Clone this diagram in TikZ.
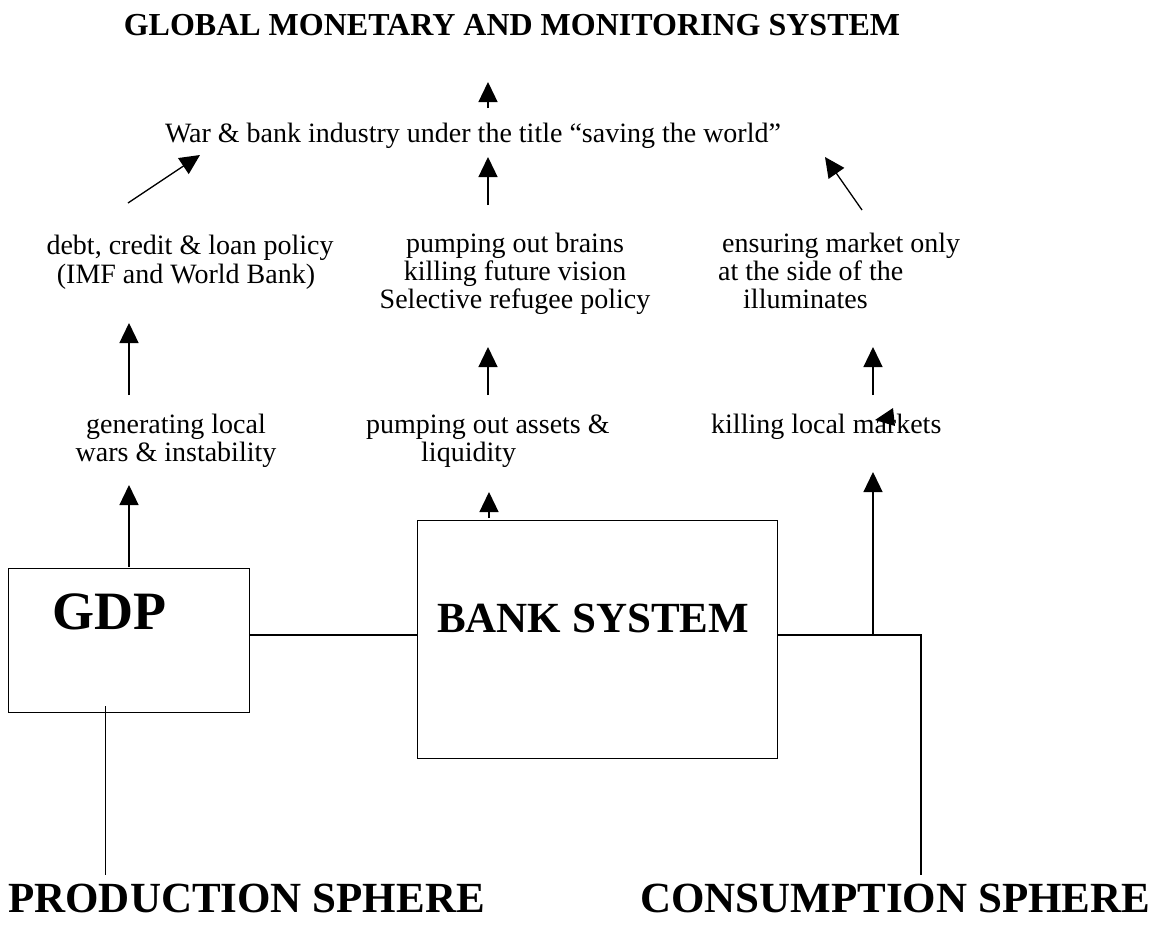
\documentclass[tikz,border=0pt]{standalone}
\usepackage{fontspec}
\setmainfont{Liberation Serif}
\usetikzlibrary{arrows.meta}
\begin{document}
\begin{tikzpicture}[x=1pt,y=-1pt,
  txt/.style={font=\fontsize{28}{28}\selectfont, inner sep=0pt, anchor=base},
  txtw/.style={txt, anchor=base west},
  big/.style={font=\fontsize{43}{43}\selectfont\bfseries, inner sep=0pt, anchor=base west},
  box/.style={draw, line width=1.3pt, inner sep=0pt, anchor=north west},
  arr/.style={line width=1.3pt, -{Triangle[length=20pt,width=19pt]}},
  ln/.style={line width=1.3pt}]
\useasboundingbox (0,0) rectangle (1167,930);
% texts
\node[font=\fontsize{32}{32}\selectfont\bfseries, inner sep=0pt, anchor=base] (title) at (512,35) {GLOBAL MONETARY AND MONITORING SYSTEM};
\node[txt] (war) at (473,142) {War \& bank industry under the title “saving the world”};
\node[txt] (debtA) at (190,254) {debt, credit \& loan policy};
\node[txt] (debtB) at (186,283) {(IMF and World Bank)};
\node[txt] (brainA) at (515,252) {pumping out brains};
\node[txt] (brainB) at (515,280) {killing future vision};
\node[txt] (brainC) at (515,308) {Selective refugee policy};
\node[txtw] (ensA) at (722,252) {ensuring market only};
\node[txtw] (ensB) at (718,280) {at the side of the};
\node[txtw] (ensC) at (743,308) {illuminates};
\node[txt] (genA) at (176,433) {generating local};
\node[txt] (genB) at (176,461) {wars \& instability};
\node[txtw] (assA) at (366,433) {pumping out assets \&};
\node[txtw] (assB) at (421,461) {liquidity};
\node[txtw] (kill) at (711,433) {killing local markets};
% boxes
\node[box, minimum width=241pt, minimum height=144pt] (gdp) at (8,568) {};
\node[font=\fontsize{54}{54}\selectfont\bfseries, inner sep=0pt, anchor=base west] (gdpt) at (52,629) {GDP};
\node[box, minimum width=360pt, minimum height=238pt] (bank) at (417,520) {};
\node[big] (bankt) at (437,632) {BANK SYSTEM};
\node[big] (prod) at (8,912) {PRODUCTION SPHERE};
\node[big] (cons) at (640,912) {CONSUMPTION SPHERE};
% coordinates
\coordinate (hl) at (0,635);
\coordinate (rj) at (921,635);
\coordinate (mj) at (873,635);
\coordinate (consTop) at (921,875);
\coordinate (prodTop) at (105,875);
\coordinate (gdpBot) at (105,706);
% connectors
\draw[ln] (gdp.east|-hl) -- (bank.west|-hl);
\draw[ln] (bank.east|-hl) -- (rj) -- (consTop);
\draw[line width=1pt] (gdpBot) -- (prodTop);
\draw[arr] (mj) -- (873,472) coordinate (killTip);
\draw[arr] (129,567) coordinate (gdpTop) -- (129,485) coordinate (genTip);
\draw[arr] (489,518) coordinate (bankTop) -- (489,492) coordinate (assTip);
\draw[arr] (129,395) coordinate (genTop) -- (129,323) coordinate (debtTip);
\draw[arr] (488,395) coordinate (assTop) -- (488,347) coordinate (brainTip);
\draw[arr] (873,395) coordinate (killTop) -- (873,347) coordinate (ensTip);
\draw[arr] (128,203) coordinate (debtTop) -- (200,155) coordinate (warTipL);
\draw[arr] (488,205) coordinate (brainTop) -- (488,157) coordinate (warTipM);
\draw[arr] (862,210) coordinate (ensTop) -- (825,157) coordinate (warTipR);
\draw[arr] (488,108) coordinate (warTop) -- (488,82) coordinate (titleTip);
\fill (875,420) -- (893,408) -- (895,426) -- cycle;
\end{tikzpicture}
\end{document}
